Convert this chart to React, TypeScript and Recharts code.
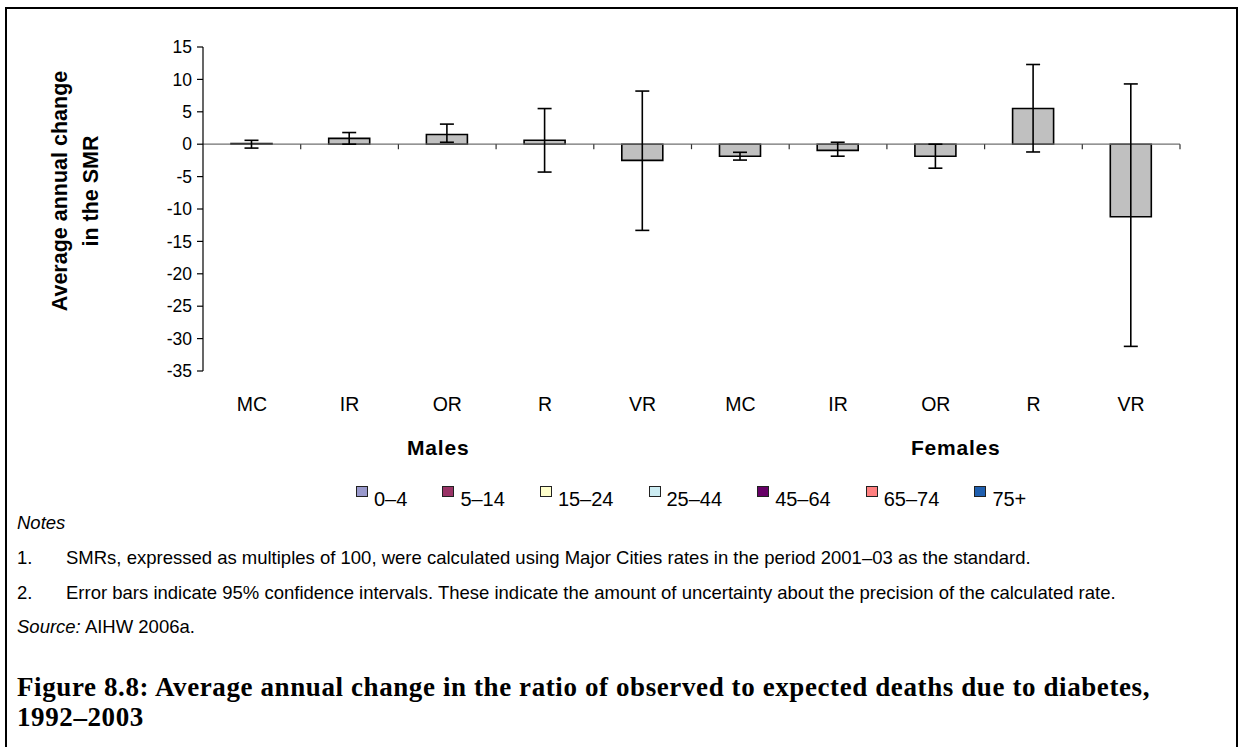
import React from 'react';
import { BarChart, Bar, XAxis, YAxis, ErrorBar, ReferenceLine } from 'recharts';

// regions, repeated for males then females
const regions = ['MC', 'IR', 'OR', 'R', 'VR', 'MC', 'IR', 'OR', 'R', 'VR'];
const sexGroups = ['Males', 'Males', 'Males', 'Males', 'Males', 'Females', 'Females', 'Females', 'Females', 'Females'];
// average annual change in the SMR, with 95% CI
const smrChange = [0.1, 0.9, 1.5, 0.6, -2.5, -1.85, -0.95, -1.85, 5.5, -11.2];
const ciLow = [-0.6, 0.0, 0.3, -4.3, -13.3, -2.45, -1.85, -3.7, -1.2, -31.2];
const ciHigh = [0.6, 1.8, 3.1, 5.5, 8.2, -1.25, 0.3, 0.0, 12.3, 9.3];
const yTicks = [15, 10, 5, 0, -5, -10, -15, -20, -25, -30, -35];

const legendLabels = ['0–4', '5–14', '15–24', '25–44', '45–64', '65–74', '75+'];
const legendColors = ['#9999CC', '#993366', '#FFFFCC', '#CCECF2', '#660066', '#FF8080', '#1F5FAF'];

const data = regions.map((r, i) => ({
  key: `${sexGroups[i]}-${r}`,
  region: r,
  group: sexGroups[i],
  value: smrChange[i],
  err: [smrChange[i] - ciLow[i], ciHigh[i] - smrChange[i]],
}));

const SANS = '"Liberation Sans", Arial, sans-serif';
const SERIF = '"Liberation Serif", "Times New Roman", serif';

const RegionTick = (props: any) => {
  const { x, y, payload } = props;
  const i = payload.index;
  const d = data[i];
  const first = data.findIndex((e) => e.group === d.group);
  const count = data.filter((e) => e.group === d.group).length;
  const showGroup = i === first + Math.floor(count / 2);
  const dx = d.group === 'Males' ? -9 : 20;
  return (
    <g>
      <text x={x} y={y + 39.5} textAnchor="middle" fontSize={19.5} fill="#000" fontFamily={SANS}>
        {d.region}
      </text>
      {showGroup && (
        <text x={x + dx} y={y + 84} textAnchor="middle" fontSize={21} fontWeight="bold" letterSpacing={0.8} fill="#000" fontFamily={SANS}>
          {d.group}
        </text>
      )}
    </g>
  );
};

const ZeroLine = (props: any) => {
  const { x1, y1, x2, y2 } = props;
  const n = data.length;
  const step = (x2 - x1) / n;
  return (
    <g>
      <line x1={x1} y1={y1} x2={x2} y2={y2} stroke="#707070" strokeWidth={1.2} />
      {data.map((_, i) => (
        <line key={i} x1={x1 + step * (i + 1)} y1={y1} x2={x1 + step * (i + 1)} y2={y1 + 5} stroke="#333" strokeWidth={1.2} />
      ))}
    </g>
  );
};

const YTitle = (props: any) => {
  const vb = props.viewBox || { x: 143, y: 47, width: 60, height: 324 };
  const cy = vb.y + vb.height / 2 - 18;
  const b1 = vb.x - 76.5;
  const b2 = vb.x - 45;
  return (
    <g fontFamily={SANS} fontWeight="bold" fontSize={21.5} fill="#000">
      <text x={b1} y={cy} transform={`rotate(-90 ${b1} ${cy})`} textAnchor="middle">
        Average annual change
      </text>
      <text x={b2} y={cy} transform={`rotate(-90 ${b2} ${cy})`} textAnchor="middle">
        in the SMR
      </text>
    </g>
  );
};

const noteStyle: React.CSSProperties = {
  position: 'absolute',
  left: 17,
  fontFamily: SANS,
  fontSize: 18.5,
  lineHeight: '21px',
  color: '#000',
  whiteSpace: 'nowrap',
};

export default function App() {
  return (
    <div style={{ position: 'absolute', left: 0, top: 0, width: 1240, height: 747, background: '#fff', overflow: 'hidden' }}>
      <div
        style={{
          position: 'absolute',
          left: 5,
          top: 7,
          width: 1233,
          height: 780,
          boxSizing: 'border-box',
          borderLeft: '2px solid #000',
          borderTop: '2px solid #000',
          borderRight: '2px solid #000',
        }}
      />
      <div style={{ position: 'absolute', left: 0, top: 0 }}>
        <BarChart
          width={1240}
          height={520}
          data={data}
          margin={{ top: 47, right: 60, bottom: 49, left: 143 }}
          style={{ fontFamily: SANS }}
        >
          <XAxis
            dataKey="key"
            axisLine={false}
            tickLine={false}
            tickSize={0}
            tickMargin={0}
            height={100}
            interval={0}
            tick={<RegionTick />}
          />
          <YAxis
            width={60}
            domain={[-35, 15]}
            ticks={yTicks}
            interval={0}
            axisLine={{ stroke: '#000', strokeWidth: 1.2 }}
            tickLine={{ stroke: '#000', strokeWidth: 1.2 }}
            tickSize={6}
            tickMargin={5}
            tick={{ fill: '#000', fontSize: 17.5, fontFamily: SANS }}
            label={<YTitle />}
          />
          <ReferenceLine y={0} shape={<ZeroLine />} ifOverflow="visible" />
          <Bar dataKey="value" fill="#C0C0C0" stroke="#000" strokeWidth={1.6} barSize={41} isAnimationActive={false}>
            <ErrorBar dataKey="err" width={7} stroke="#000" strokeWidth={1.6} direction="y" />
          </Bar>
        </BarChart>
      </div>

      {/* legend (age groups) */}
      <div style={{ position: 'absolute', left: 356, top: 486, display: 'flex', alignItems: 'flex-start' }}>
        {legendLabels.map((l, i) => (
          <div key={l} style={{ display: 'flex', alignItems: 'flex-start', marginRight: 35 }}>
            <div
              style={{
                width: 12,
                height: 11,
                boxSizing: 'border-box',
                background: legendColors[i],
                border: '1.5px solid #222',
                marginRight: 6,
              }}
            />
            <div style={{ fontFamily: SANS, fontSize: 20, lineHeight: '20px', marginTop: 3 }}>{l}</div>
          </div>
        ))}
      </div>

      <div style={{ ...noteStyle, top: 512, fontStyle: 'italic' }}>Notes</div>
      <div style={{ ...noteStyle, top: 547 }}>
        <span style={{ display: 'inline-block', width: 49 }}>1.</span>
        SMRs, expressed as multiples of 100, were calculated using Major Cities rates in the period 2001–03 as the standard.
      </div>
      <div style={{ ...noteStyle, top: 582 }}>
        <span style={{ display: 'inline-block', width: 49 }}>2.</span>
        Error bars indicate 95% confidence intervals. These indicate the amount of uncertainty about the precision of the calculated rate.
      </div>
      <div style={{ ...noteStyle, top: 616 }}>
        <i>Source:</i> AIHW 2006a.
      </div>

      <div
        style={{
          position: 'absolute',
          left: 17,
          top: 672,
          fontFamily: SERIF,
          fontWeight: 'bold',
          fontSize: 27,
          letterSpacing: 0.6,
          lineHeight: '30px',
          color: '#000',
          whiteSpace: 'nowrap',
        }}
      >
        Figure 8.8: Average annual change in the ratio of observed to expected deaths due to diabetes,
        <br />
        1992–2003
      </div>
    </div>
  );
}
